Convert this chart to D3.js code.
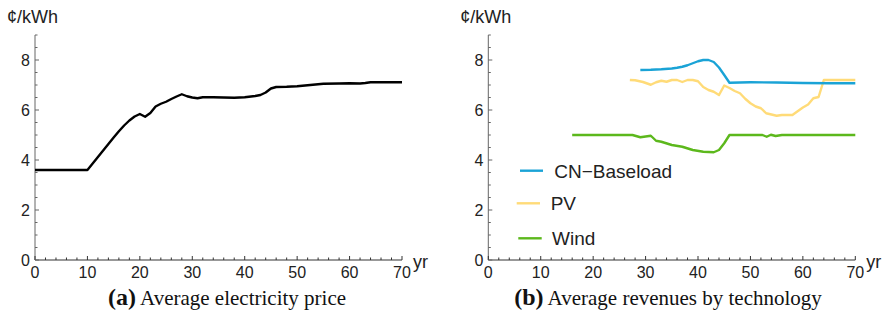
<!DOCTYPE html>
<html>
<head>
<meta charset="utf-8">
<script src="https://cdn.jsdelivr.net/npm/d3@7"></script>
<style>
  body { margin: 0; background: #fff; }
  svg { display: block; }
  .tick-label { font-family: "Liberation Sans", Arial, sans-serif; font-size: 16px; fill: #222; }
  .unit-label { font-family: "Liberation Sans", Arial, sans-serif; font-size: 18px; fill: #222; }
  .legend-label { font-family: "Liberation Sans", Arial, sans-serif; font-size: 19px; fill: #222; }
  .caption { font-family: "Liberation Serif", "Times New Roman", serif; font-size: 21px; fill: #111; }
</style>
</head>
<body>
<div id="wrapper"></div>
<script>
// 1. Data
const xTicks = [0, 10, 20, 30, 40, 50, 60, 70]
const yTicks = [0, 2, 4, 6, 8]

const priceYears = [0, 10, 11, 12, 13, 14, 15, 16, 17, 18, 19, 20, 21, 22, 23, 24, 25, 26, 27, 28, 29, 30, 31, 32, 34, 36, 38, 40, 42, 43, 44, 45, 46, 48, 50, 52, 54, 55, 58, 60, 62, 63, 64, 70]
const priceValues = [3.6, 3.6, 3.86, 4.12, 4.38, 4.64, 4.9, 5.15, 5.38, 5.58, 5.74, 5.84, 5.73, 5.88, 6.14, 6.25, 6.33, 6.44, 6.54, 6.63, 6.55, 6.5, 6.47, 6.51, 6.51, 6.5, 6.49, 6.51, 6.56, 6.6, 6.7, 6.86, 6.92, 6.93, 6.95, 6.99, 7.03, 7.05, 7.06, 7.07, 7.06, 7.08, 7.11, 7.11]

const baseYears = [29, 31, 33, 35, 36, 37, 38, 39, 40, 41, 42, 43, 44, 45, 46, 48, 50, 55, 60, 65, 70]
const baseValues = [7.6, 7.61, 7.63, 7.66, 7.69, 7.73, 7.79, 7.87, 7.95, 8.0, 8.0, 7.92, 7.7, 7.4, 7.09, 7.1, 7.11, 7.1, 7.08, 7.07, 7.07]

const pvYears = [27, 28, 29.5, 31, 32, 33, 34, 35, 36, 37, 38, 39, 40, 41, 42, 43, 44, 45, 46, 47, 48, 49, 50, 51, 52, 53, 55, 56, 58, 59, 60, 61, 62, 63, 64, 70]
const pvValues = [7.2, 7.19, 7.12, 7.01, 7.11, 7.17, 7.13, 7.2, 7.2, 7.12, 7.2, 7.2, 7.15, 6.92, 6.8, 6.73, 6.6, 6.98, 6.88, 6.76, 6.67, 6.45, 6.27, 6.14, 6.07, 5.87, 5.77, 5.8, 5.8, 5.95, 6.1, 6.22, 6.47, 6.52, 7.2, 7.2]

const windYears = [16, 27.5, 29, 31, 32, 33, 35, 37, 39, 41, 43, 44, 45, 46, 52.3, 53.1, 53.9, 54.8, 56, 70]
const windValues = [5.0, 5.0, 4.91, 4.97, 4.77, 4.73, 4.6, 4.53, 4.4, 4.33, 4.31, 4.4, 4.67, 5.0, 5.0, 4.93, 5.01, 4.96, 5.0, 5.0]

const legendNames = ["CN\u2212Baseload", "PV", "Wind"]
const seriesColors = ["#1aa3d6", "#ffdb78", "#5cb81c"]

// 2. Dimensions
const width = 895
const height = 317
const panels = [
  { left: 35, caption: ["(a)", " Average electricity price"], captionX: 227 },
  { left: 488.3, caption: ["(b)", " Average revenues by technology"], captionX: 668 },
]
const plotWidth = 367
const plotTop = 35
const plotBottom = 260

const wrapper = d3.select("#wrapper")
  .append("svg")
  .attr("width", width)
  .attr("height", height)

const yScale = d3.scaleLinear().domain([0, 9]).range([plotBottom, plotTop])

function drawPanel(panel) {
  const xScale = d3.scaleLinear()
    .domain([0, 70])
    .range([panel.left, panel.left + plotWidth])
  const g = wrapper.append("g")

  // axes lines
  g.append("line")
    .attr("x1", xScale(0)).attr("x2", xScale(0))
    .attr("y1", yScale(0)).attr("y2", yScale(9))
    .attr("stroke", "#666").attr("stroke-width", 1)
  g.append("line")
    .attr("x1", xScale(0)).attr("x2", xScale(70))
    .attr("y1", yScale(0)).attr("y2", yScale(0))
    .attr("stroke", "#333").attr("stroke-width", 1)

  // x ticks (inward)
  const xMinor = d3.range(0, 70.01, 2).filter(v => v % 10 !== 0)
  g.selectAll(".xmaj").data(xTicks).join("line")
    .attr("x1", d => xScale(d)).attr("x2", d => xScale(d))
    .attr("y1", yScale(0)).attr("y2", yScale(0) - 4)
    .attr("stroke", "#333")
  g.selectAll(".xmin").data(xMinor).join("line")
    .attr("x1", d => xScale(d)).attr("x2", d => xScale(d))
    .attr("y1", yScale(0)).attr("y2", yScale(0) - 2.5)
    .attr("stroke", "#333")
  g.selectAll(".xlab").data(xTicks).join("text")
    .attr("class", "tick-label")
    .attr("x", d => xScale(d))
    .attr("y", yScale(0) + 18)
    .attr("text-anchor", "middle")
    .text(d => d)

  // y ticks (inward)
  const yMinor = d3.range(0, 9.01, 0.5).filter(v => v % 2 !== 0)
  g.selectAll(".ymaj").data(yTicks).join("line")
    .attr("x1", xScale(0)).attr("x2", xScale(0) + 4)
    .attr("y1", d => yScale(d)).attr("y2", d => yScale(d))
    .attr("stroke", "#666")
  g.selectAll(".ymin").data(yMinor).join("line")
    .attr("x1", xScale(0)).attr("x2", xScale(0) + 2.5)
    .attr("y1", d => yScale(d)).attr("y2", d => yScale(d))
    .attr("stroke", "#666")
  g.selectAll(".ylab").data(yTicks).join("text")
    .attr("class", "tick-label")
    .attr("x", xScale(0) - 5)
    .attr("y", d => yScale(d) + 6)
    .attr("text-anchor", "end")
    .text(d => d)

  // unit labels
  g.append("text")
    .attr("class", "unit-label")
    .attr("x", xScale(0) - 28)
    .attr("y", 23)
    .text("\u00a2/kWh")
  g.append("text")
    .attr("class", "unit-label")
    .attr("x", xScale(70) + 11)
    .attr("y", yScale(0) + 8)
    .text("yr")

  // caption
  const cap = g.append("text")
    .attr("class", "caption")
    .attr("x", panel.captionX)
    .attr("y", 305)
    .attr("text-anchor", "middle")
  cap.append("tspan").attr("font-weight", "bold").attr("font-size", "24px").text(panel.caption[0])
  cap.append("tspan").text(panel.caption[1])

  return { g, xScale }
}

const left = drawPanel(panels[0])
const right = drawPanel(panels[1])

function drawLine(panel, years, values, color, widthPx) {
  const line = d3.line()
    .x((d, i) => panel.xScale(years[i]))
    .y(d => yScale(d))
  panel.g.append("path")
    .datum(values)
    .attr("fill", "none")
    .attr("stroke", color)
    .attr("stroke-width", widthPx)
    .attr("stroke-linejoin", "round")
    .attr("d", line)
}

drawLine(left, priceYears, priceValues, "#000", 2.4)
drawLine(right, windYears, windValues, seriesColors[2], 2.4)
drawLine(right, pvYears, pvValues, seriesColors[1], 2.4)
drawLine(right, baseYears, baseValues, seriesColors[0], 2.4)

// legend
const legendY = [170.7, 203.3, 238.3]
const legendLineX = [[520, 543], [516.7, 540], [518.3, 541.7]]
const legendTextX = [554.3, 550.7, 552]
legendNames.forEach((name, i) => {
  right.g.append("line")
    .attr("x1", legendLineX[i][0]).attr("x2", legendLineX[i][1])
    .attr("y1", legendY[i]).attr("y2", legendY[i])
    .attr("stroke", seriesColors[i]).attr("stroke-width", 2.4)
  right.g.append("text")
    .attr("class", "legend-label")
    .attr("x", legendTextX[i])
    .attr("y", legendY[i] + 7)
    .text(name)
})
</script>
</body>
</html>
